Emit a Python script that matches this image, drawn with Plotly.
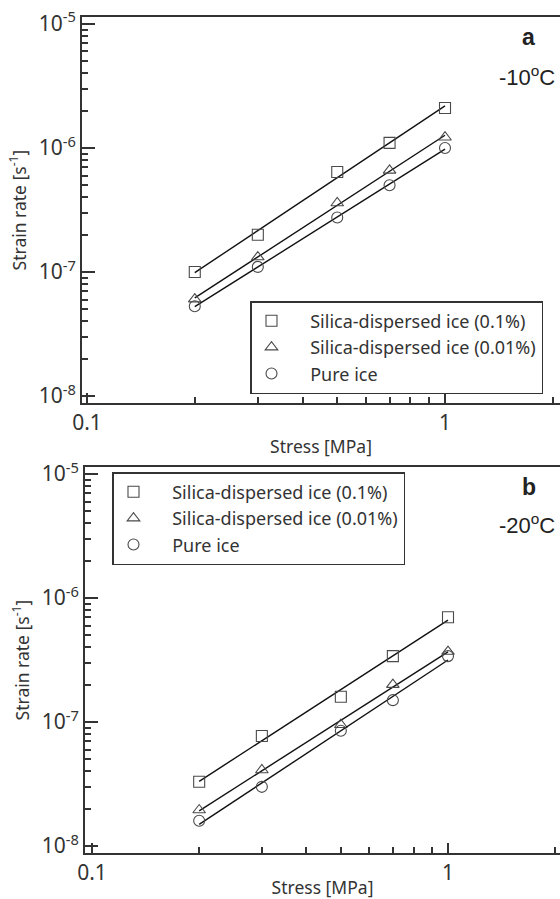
import numpy as np
import plotly.graph_objects as go

# ---- data ----
stress = [0.2, 0.3, 0.5, 0.7, 1.0]
series_names = ["Silica-dispersed ice (0.1%)", "Silica-dispersed ice (0.01%)", "Pure ice"]
symbols = ["square-open", "triangle-up-open", "circle-open"]

# -10 C
a_silica01 = [1.0e-7, 2.0e-7, 6.4e-7, 1.1e-6, 2.1e-6]
a_silica001 = [6.05e-8, 1.32e-7, 3.6e-7, 6.6e-7, 1.22e-6]
a_pure = [5.3e-8, 1.1e-7, 2.75e-7, 5.0e-7, 1.0e-6]

# -20 C
b_silica01 = [3.3e-8, 7.7e-8, 1.6e-7, 3.4e-7, 7.0e-7]
b_silica001 = [1.95e-8, 4.1e-8, 9.5e-8, 2.0e-7, 3.7e-7]
b_pure = [1.6e-8, 3.0e-8, 8.5e-8, 1.5e-7, 3.4e-7]

y_major = [1e-8, 1e-7, 1e-6, 1e-5]
y_major_text = ["10<sup>-8</sup>", "10<sup>-7</sup>", "10<sup>-6</sup>", "10<sup>-5</sup>"]
x_major = [0.1, 1]
x_major_text = ["0.1", "1"]
x_minor = [0.2, 0.3, 0.4, 0.5, 0.6, 0.7, 0.8, 0.9, 2]
y_minor = [m * 10.0 ** e for e in (-8, -7, -6) for m in range(2, 10)]

panels = [
    dict(name="a", temp="-10<sup>o</sup>C", data=[a_silica01, a_silica001, a_pure]),
    dict(name="b", temp="-20<sup>o</sup>C", data=[b_silica01, b_silica001, b_pure]),
]

W, H = 560, 899
FONT = "Noto Sans"
AX = "#333333"
MK = "#4a4a4a"
PAD = "\u00a0" * 4
TICKSIZE = 21

fig = go.Figure()

geo = [
    dict(left=82, top=17, bottom=403, xr=[-1.014, 0.3212], yr=[-8.056, -4.944],
         leg=(250, 301), lab=(528, 37), temp=(557, 76)),
    dict(left=85, top=467, bottom=853, xr=[-1.0197, 0.3146], yr=[-8.0565, -4.9435],
         leg=(112, 472), lab=(529, 487), temp=(557, 524)),
]

for i, (p, g) in enumerate(zip(panels, geo)):
    n = 1 + i
    xa, ya = ("x" if n == 1 else f"x{n}"), ("y" if n == 1 else f"y{n}")
    leg = "legend" if i == 0 else "legend2"
    lx = np.log10(stress)
    for k, (vals, sym, nm) in enumerate(zip(p["data"], symbols, series_names)):
        coef = np.polyfit(lx, np.log10(vals), 1)
        fit = 10 ** np.polyval(coef, lx)
        fig.add_trace(go.Scatter(
            x=[stress[0], stress[-1]], y=[fit[0], fit[-1]], mode="lines",
            line=dict(color="#111111", width=1.4), showlegend=False,
            xaxis=xa, yaxis=ya, hoverinfo="skip"))
        fig.add_trace(go.Scatter(
            x=stress, y=vals, mode="markers", name=PAD + nm,
            marker=dict(symbol=sym, size=11, color=MK, line=dict(width=1.1, color=MK)),
            xaxis=xa, yaxis=ya, legend=leg, legendgroup=f"{p['name']}{k}"))

    xdom = [g["left"] / W, 1.0]
    ydom = [(H - g["bottom"]) / H, (H - g["top"]) / H]
    common = dict(type="log", showgrid=False, zeroline=False, automargin=False,
                  showline=True, linecolor=AX, linewidth=2,
                  tickcolor=AX, tickwidth=1.5, ticks="inside",
                  tickfont=dict(family=FONT, size=TICKSIZE, color="#333"))
    tfont = dict(family=FONT, size=17.5, color="#333")
    k_x = "xaxis" if n == 1 else f"xaxis{n}"
    k_y = "yaxis" if n == 1 else f"yaxis{n}"
    fig.update_layout(**{
        k_x: dict(common, domain=xdom, range=g["xr"], anchor=ya, mirror=True,
                  tickmode="array", tickvals=x_major, ticktext=x_major_text, ticklen=10,
                  minor=dict(tickmode="array", tickvals=x_minor, ticks="inside", ticklen=6,
                             tickcolor=AX, tickwidth=1.5, showgrid=False),
                  title=dict(text="Stress [MPa]", font=tfont, standoff=6)),
        k_y: dict(common, domain=ydom, range=g["yr"], anchor=xa,
                  tickmode="array", tickvals=y_major, ticktext=y_major_text, ticklen=13,
                  minor=dict(tickmode="array", tickvals=y_minor, ticks="inside", ticklen=6,
                             tickcolor=AX, tickwidth=1.5, showgrid=False),
                  title=dict(text="Strain rate [s<sup>-1</sup>]", font=tfont, standoff=8)),
        leg: dict(x=g["leg"][0] / W, y=(H - g["leg"][1]) / H, xanchor="left", yanchor="top",
                  bgcolor="white", bordercolor=AX, borderwidth=1.5,
                  font=dict(family=FONT, size=18, color="#333"),
                  tracegroupgap=0, itemwidth=30),
    })
    fig.add_annotation(text=f"<b>{p['name']}</b>", x=g["lab"][0] / W, y=(H - g["lab"][1]) / H,
                       xref="paper", yref="paper", showarrow=False, xanchor="center",
                       yanchor="middle", font=dict(family="Liberation Sans", size=23, color="#222"))
    fig.add_annotation(text=p["temp"], x=g["temp"][0] / W, y=(H - g["temp"][1]) / H,
                       xref="paper", yref="paper", showarrow=False, xanchor="right",
                       yanchor="middle", font=dict(family="Liberation Sans", size=22, color="#222"))

fig.update_layout(template="none", width=W, height=H, margin=dict(l=0, r=0, t=0, b=0),
                  font=dict(family=FONT, size=16, color="#333"),
                  paper_bgcolor="white", plot_bgcolor="white", showlegend=True)
fig.write_html("out.html")
